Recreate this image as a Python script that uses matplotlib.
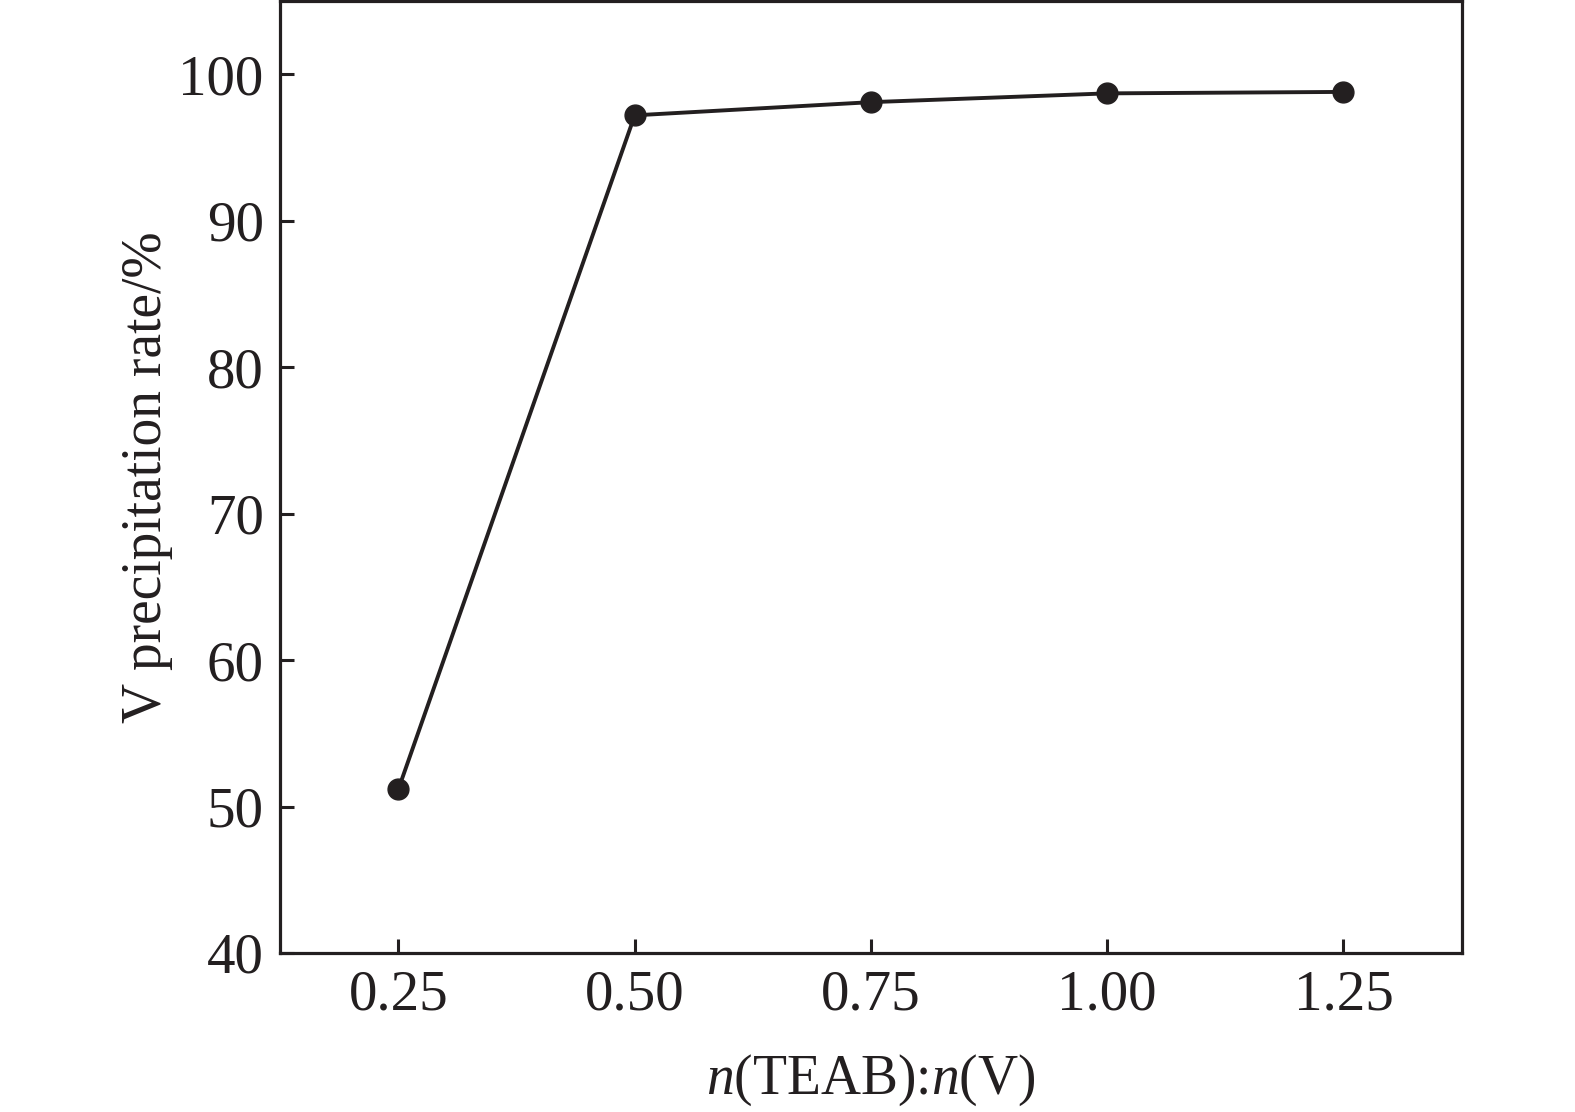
import matplotlib
matplotlib.use("Agg")
import matplotlib.pyplot as plt

plt.rcParams["font.family"] = "Liberation Serif"
plt.rcParams["mathtext.fontset"] = "custom"
plt.rcParams["mathtext.rm"] = "Liberation Serif"
plt.rcParams["mathtext.it"] = "Liberation Serif:italic"

# data
ratio = [0.25, 0.50, 0.75, 1.00, 1.25]
rate = [51.2, 97.2, 98.1, 98.7, 98.8]
xticks = [0.25, 0.50, 0.75, 1.00, 1.25]
xticklabels = ["0.25", "0.50", "0.75", "1.00", "1.25"]
yticks = [40, 50, 60, 70, 80, 90, 100]

fig = plt.figure(figsize=(15.75, 11.12), dpi=100)
ax = fig.add_axes([0.178, 0.143, 0.750, 0.856])

ax.plot(ratio, rate, "-", color="#231f20", linewidth=2.8,
        marker="o", markersize=15, markerfacecolor="#231f20",
        markeredgecolor="#231f20")

ax.set_xlim(0.125, 1.375)
ax.set_ylim(40, 105)
ax.set_xticks(xticks)
ax.set_xticklabels(xticklabels)
ax.set_yticks(yticks)

for s in ax.spines.values():
    s.set_linewidth(2.3)
    s.set_color("#231f20")
ax.tick_params(direction="in", length=10, width=2.2, colors="#231f20",
               labelsize=41, pad=12)

ax.set_xlabel(r"$n$(TEAB):$n$(V)", fontsize=40, color="#231f20", labelpad=22)
ax.set_ylabel("V precipitation rate/%", fontsize=40,
              color="#231f20", labelpad=4)

fig.savefig("out.png", dpi=100)
